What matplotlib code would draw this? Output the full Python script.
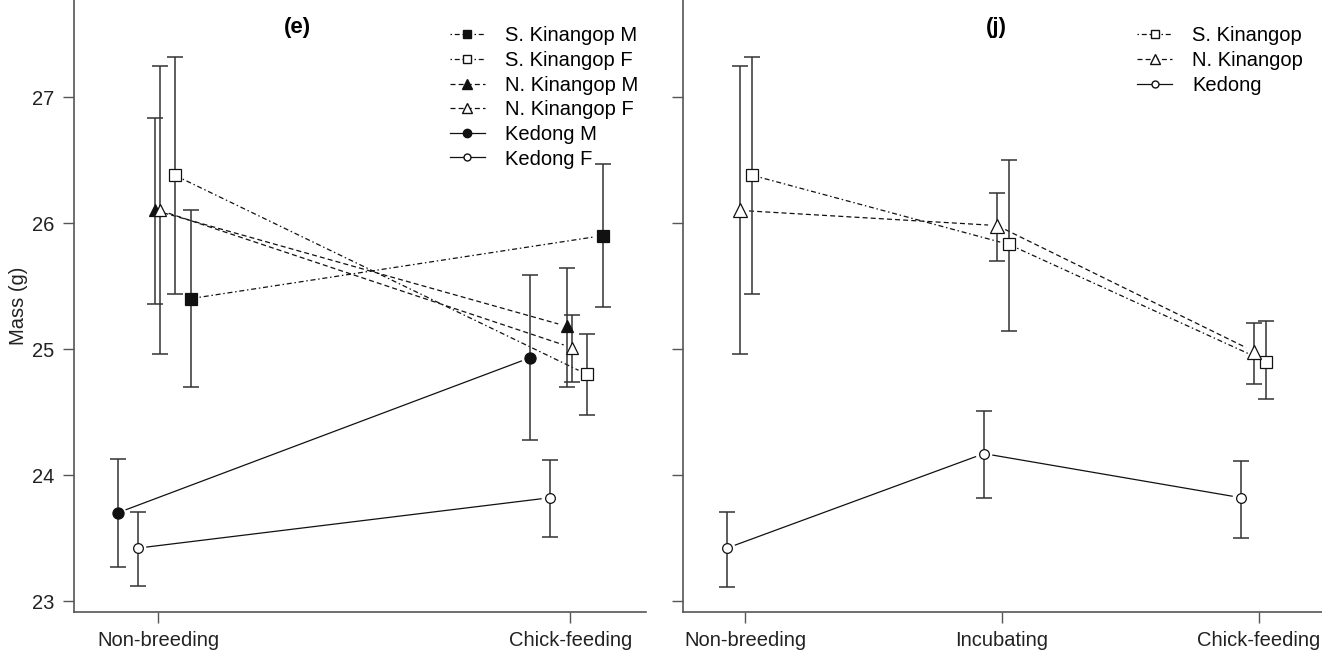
import numpy as np
import matplotlib
matplotlib.use("Agg")
import matplotlib.pyplot as plt
from matplotlib.lines import Line2D

plt.rcParams['font.family'] = ['Liberation Sans', 'DejaVu Sans']

# ---- panel (e): sex x population ----
groups_e = ['Non-breeding', 'Chick-feeding']
skm_mean = [25.40, 25.90]
skm_lo = [24.70, 25.33]
skm_hi = [26.10, 26.47]
skf_mean = [26.38, 24.80]
skf_lo = [25.44, 24.48]
skf_hi = [27.32, 25.12]
nkm_mean = [26.10, 25.18]
nkm_lo = [25.36, 24.70]
nkm_hi = [26.83, 25.64]
nkf_mean = [26.10, 25.01]
nkf_lo = [24.96, 24.74]
nkf_hi = [27.25, 25.27]
km_mean = [23.70, 24.93]
km_lo = [23.27, 24.28]
km_hi = [24.13, 25.59]
kf_mean = [23.42, 23.82]
kf_lo = [23.12, 23.51]
kf_hi = [23.71, 24.12]

# ---- panel (j): population only ----
groups_j = ['Non-breeding', 'Incubating', 'Chick-feeding']
sk_mean = [26.38, 25.83, 24.90]
sk_lo = [25.44, 25.14, 24.60]
sk_hi = [27.32, 26.50, 25.22]
nk_mean = [26.10, 25.98, 24.98]
nk_lo = [24.96, 25.70, 24.72]
nk_hi = [27.25, 26.24, 25.21]
ked_mean = [23.42, 24.17, 23.82]
ked_lo = [23.11, 23.82, 23.50]
ked_hi = [23.71, 24.51, 24.11]

INK = '#111111'
AXC = '#555555'
DOTDASH = (0, (1.2, 2.2, 4, 2.2))
DASHED = (0, (4, 2.5))
SOLID = '-'
FS = 14.5

fig = plt.figure(figsize=(13.22, 6.53), dpi=100)
ax1 = fig.add_axes([74 / 1322, 41 / 653, 572 / 1322, 612 / 653])
ax2 = fig.add_axes([683 / 1322, 41 / 653, 639 / 1322, 612 / 653])

ylim = (22.913, 27.77)
ax1.set_xlim(-0.204, 1.184)
ax2.set_xlim(-0.241, 2.245)
for ax in (ax1, ax2):
    ax.set_ylim(*ylim)
    for s in ('top', 'right'):
        ax.spines[s].set_visible(False)
    for s in ('left', 'bottom'):
        ax.spines[s].set_color(AXC)
        ax.spines[s].set_linewidth(1.2)
    ax.set_yticks([23, 24, 25, 26, 27])
    ax.tick_params(direction='out', length=8, width=1, color=AXC,
                   labelsize=FS, labelcolor='#222222', pad=6)


def gapped_line(ax, xs, ys, gap, **kw):
    # lines stop short of the markers, like R's type="b"
    pts = ax.transData.transform(np.column_stack([xs, ys]))
    inv = ax.transData.inverted()
    for p0, p1 in zip(pts[:-1], pts[1:]):
        d = p1 - p0
        u = d / np.hypot(*d)
        seg = inv.transform([p0 + u * gap, p1 - u * gap])
        ax.plot(seg[:, 0], seg[:, 1], color=INK, lw=0.9, **kw)


def series(ax, dodge, mean, lo, hi, marker, filled, ls, ms):
    x = np.arange(len(mean)) + dodge
    mean = np.asarray(mean)
    yerr = [mean - np.asarray(lo), np.asarray(hi) - mean]
    ax.errorbar(x, mean, yerr=yerr, fmt='none', ecolor='#333333',
                elinewidth=1.1, capsize=6, capthick=1.1, zorder=2)
    gapped_line(ax, x, mean, 9, linestyle=ls, zorder=1)
    ax.plot(x, mean, linestyle='none', marker=marker, ms=ms,
            mfc=INK if filled else 'white', mec=INK, mew=0.9, zorder=3)


# panel (e)
series(ax1, 0.079, skm_mean, skm_lo, skm_hi, 's', True, DOTDASH, 8)
series(ax1, 0.040, skf_mean, skf_lo, skf_hi, 's', False, DOTDASH, 8)
series(ax1, -0.008, nkm_mean, nkm_lo, nkm_hi, '^', True, DASHED, 9)
series(ax1, 0.005, nkf_mean, nkf_lo, nkf_hi, '^', False, DASHED, 9)
series(ax1, -0.098, km_mean, km_lo, km_hi, 'o', True, SOLID, 8)
series(ax1, -0.049, kf_mean, kf_lo, kf_hi, 'o', False, SOLID, 7)
ax1.set_xticks(range(len(groups_e)))
ax1.set_xticklabels(groups_e)
ax1.set_ylabel('Mass (g)', fontsize=FS, color='#222222', labelpad=3)

leg_kw = dict(loc='upper left', frameon=False, fontsize=FS, handlelength=1.75,
              handletextpad=1.0, labelspacing=0.28, borderaxespad=0, borderpad=0)

handles_e = [
    Line2D([], [], color=INK, lw=0.9, ls=DOTDASH, marker='s', ms=6, mfc=INK, mec=INK),
    Line2D([], [], color=INK, lw=0.9, ls=DOTDASH, marker='s', ms=6, mfc='white', mec=INK),
    Line2D([], [], color=INK, lw=0.9, ls=DASHED, marker='^', ms=7, mfc=INK, mec=INK),
    Line2D([], [], color=INK, lw=0.9, ls=DASHED, marker='^', ms=7, mfc='white', mec=INK),
    Line2D([], [], color=INK, lw=0.9, ls=SOLID, marker='o', ms=6, mfc=INK, mec=INK),
    Line2D([], [], color=INK, lw=0.9, ls=SOLID, marker='o', ms=5, mfc='white', mec=INK),
]
labels_e = ['S. Kinangop M', 'S. Kinangop F', 'N. Kinangop M',
            'N. Kinangop F', 'Kedong M', 'Kedong F']
ax1.legend(handles_e, labels_e, bbox_to_anchor=(0.657, 0.957), **leg_kw)
ax1.text(0.39, 0.955, '(e)', transform=ax1.transAxes, ha='center', va='center',
         fontsize=16, fontweight='bold')

# panel (j)
series(ax2, 0.027, sk_mean, sk_lo, sk_hi, 's', False, DOTDASH, 8)
series(ax2, -0.019, nk_mean, nk_lo, nk_hi, '^', False, DASHED, 10)
series(ax2, -0.070, ked_mean, ked_lo, ked_hi, 'o', False, SOLID, 7)
ax2.set_xticks(range(len(groups_j)))
ax2.set_xticklabels(groups_j)
ax2.set_yticklabels([])

handles_j = [
    Line2D([], [], color=INK, lw=0.9, ls=DOTDASH, marker='s', ms=6, mfc='white', mec=INK),
    Line2D([], [], color=INK, lw=0.9, ls=DASHED, marker='^', ms=7, mfc='white', mec=INK),
    Line2D([], [], color=INK, lw=0.9, ls=SOLID, marker='o', ms=5, mfc='white', mec=INK),
]
labels_j = ['S. Kinangop', 'N. Kinangop', 'Kedong']
ax2.legend(handles_j, labels_j, bbox_to_anchor=(0.7105, 0.957), **leg_kw)
ax2.text(0.49, 0.955, '(j)', transform=ax2.transAxes, ha='center', va='center',
         fontsize=16, fontweight='bold')

fig.savefig('out.png', dpi=100)
